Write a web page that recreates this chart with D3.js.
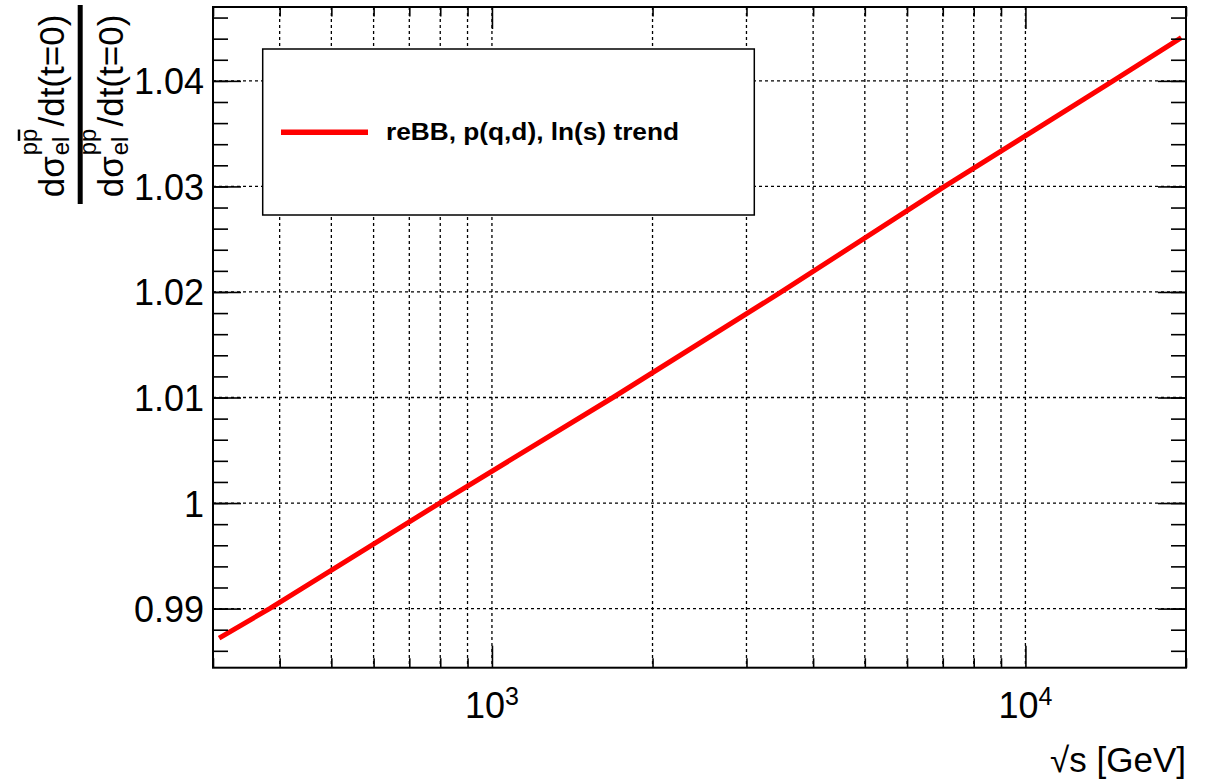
<!DOCTYPE html>
<html lang="en">
<head>
<meta charset="UTF-8">
<title>reBB ratio</title>
<script src="https://cdn.jsdelivr.net/npm/d3@7"></script>
<style>
html, body { margin: 0; padding: 0; background: #fff; }
svg { display: block; font-family: "Liberation Sans", Arial, sans-serif; }
</style>
</head>
<body>
<div class="marco"></div>
<script>
// values
const sqrtS = [308, 383, 798, 1686, 3487, 7058, 14600, 19600];
const ratio = [0.9872, 0.99, 1.00, 1.01, 1.02, 1.03, 1.04, 1.0441];
const yMajor = [0.99, 1, 1.01, 1.02, 1.03, 1.04];
const yLabels = ["0.99", "1", "1.01", "1.02", "1.03", "1.04"];
const xMajor = [1000, 10000];
const xExp = ["3", "4"];
const xMinor = [300, 400, 500, 600, 700, 800, 900, 2000, 3000, 4000, 5000, 6000, 7000, 8000, 9000, 20000];
const legendText = "reBB, p(q,d), ln(s) trend";

var width = 1214, height = 783,
    margin = { top: 7, left: 213, right: 28, bottom: 115.3 },
    innerWidth = width - margin.left - margin.right,
    innerHeight = height - margin.top - margin.bottom;

var svg = d3.select(".marco").append("svg")
    .attr("width", width)
    .attr("height", height);

var g = svg.append("g")
    .attr("transform", `translate(${margin.left}, ${margin.top})`);

var x = d3.scaleLog().domain([300, 20000]).range([0, innerWidth]),
    y = d3.scaleLinear().domain([0.9844, 1.0470]).range([innerHeight, 0]);

var yMinor = d3.range(493, 524).map(i => +(i * 0.002).toFixed(3));

// grid
var grid = g.append("g").attr("stroke", "#000").attr("stroke-width", 1.3).attr("stroke-dasharray", "3,3");
grid.selectAll(".gx")
    .data(xMinor.concat(xMajor).filter(d => d > 300 && d < 20000))
    .enter().append("line")
    .attr("x1", d => x(d)).attr("x2", d => x(d))
    .attr("y1", 0).attr("y2", innerHeight);
grid.selectAll(".gy")
    .data(yMajor)
    .enter().append("line")
    .attr("x1", 0).attr("x2", innerWidth)
    .attr("y1", d => y(d)).attr("y2", d => y(d));

// curve
g.append("clipPath").attr("id", "clip")
    .append("rect").attr("width", innerWidth).attr("height", innerHeight);

var line = d3.line()
    .x((d, i) => x(sqrtS[i]))
    .y(d => y(d));

g.append("path")
    .datum(ratio)
    .attr("clip-path", "url(#clip)")
    .attr("fill", "none")
    .attr("stroke", "#ff0000")
    .attr("stroke-width", 5)
    .attr("d", line);

// axes (ticks point inward, on all four sides)
function clean(sel) {
    sel.select(".domain").remove();
    sel.selectAll(".tick line").attr("stroke", "#000").attr("stroke-width", 1.6);
    sel.selectAll(".tick text").filter(function () { return !this.textContent; }).remove();
}
g.append("g").attr("transform", `translate(0, ${innerHeight})`)
    .call(d3.axisBottom(x).tickValues(xMinor).tickSizeInner(-9.5).tickSizeOuter(0).tickFormat(""))
    .call(clean);
g.append("g").attr("transform", `translate(0, ${innerHeight})`)
    .call(d3.axisBottom(x).tickValues(xMajor).tickSizeInner(-22).tickSizeOuter(0).tickFormat(""))
    .call(clean);
g.append("g")
    .call(d3.axisTop(x).tickValues(xMinor).tickSizeInner(-9.5).tickSizeOuter(0).tickFormat(""))
    .call(clean);
g.append("g")
    .call(d3.axisTop(x).tickValues(xMajor).tickSizeInner(-22).tickSizeOuter(0).tickFormat(""))
    .call(clean);

g.append("g")
    .call(d3.axisLeft(y).tickValues(yMinor).tickSizeInner(-15).tickSizeOuter(0).tickFormat(""))
    .call(clean);
var yAx = g.append("g")
    .call(d3.axisLeft(y).tickValues(yMajor).tickSizeInner(-28).tickSizeOuter(0).tickPadding(9)
        .tickFormat((d, i) => yLabels[i]))
    .call(clean);
yAx.selectAll("text")
    .attr("font-size", 36).attr("fill", "#000")
    .attr("font-family", "Liberation Sans, Arial, sans-serif")
    .attr("dy", "0.36em");
g.append("g").attr("transform", `translate(${innerWidth}, 0)`)
    .call(d3.axisRight(y).tickValues(yMinor).tickSizeInner(-15).tickSizeOuter(0).tickFormat(""))
    .call(clean);
g.append("g").attr("transform", `translate(${innerWidth}, 0)`)
    .call(d3.axisRight(y).tickValues(yMajor).tickSizeInner(-28).tickSizeOuter(0).tickFormat(""))
    .call(clean);

// x labels 10^n
xMajor.forEach((v, i) => {
    var t = g.append("text")
        .attr("x", x(v)).attr("y", innerHeight + 50)
        .attr("text-anchor", "middle")
        .attr("font-size", 36);
    t.append("tspan").text("10");
    t.append("tspan").attr("font-size", 25).attr("dy", -13).text(xExp[i]);
});

// frame
g.append("rect")
    .attr("width", innerWidth).attr("height", innerHeight)
    .attr("fill", "none").attr("stroke", "#000").attr("stroke-width", 2);

// x title
svg.append("text")
    .attr("x", margin.left + innerWidth).attr("y", 772)
    .attr("text-anchor", "end")
    .attr("font-size", 35)
    .text("√s [GeV]");

// legend
var leg = svg.append("g");
leg.append("rect")
    .attr("x", 262.7).attr("y", 49).attr("width", 491.6).attr("height", 166)
    .attr("fill", "#fff").attr("stroke", "#000").attr("stroke-width", 1.5);
leg.append("line")
    .attr("x1", 281).attr("x2", 368).attr("y1", 132.3).attr("y2", 132.3)
    .attr("stroke", "#ff0000").attr("stroke-width", 5.5);
leg.append("text")
    .attr("x", 386).attr("y", 140)
    .attr("font-size", 24).attr("font-weight", "bold")
    .attr("textLength", 293).attr("lengthAdjust", "spacingAndGlyphs")
    .text(legendText);

// y title: a fraction of two rotated lines
function measure(str, size) {
    var t = svg.append("text").attr("font-size", size).text(str);
    var w = t.node().getComputedTextLength();
    t.remove();
    return w;
}
function fraction(baseX, cy, pbar) {
    var big = 35, small = 24;
    var wD = measure("dσ", big) + 1,
        wEl = measure("el", small),
        wP = measure("p", small),
        wRest = measure("/dt(t=0)", big),
        wMid = Math.max(wEl, 2 * wP) + 2,
        total = wD + wMid + wRest;
    var outer = svg.append("g").attr("transform", `translate(${baseX}, ${cy}) rotate(-90)`);
    var t = outer.append("text").attr("x", -total / 2).attr("y", 0).attr("font-size", big);
    t.append("tspan").text("dσ");
    t.append("tspan").attr("dx", 1).attr("dy", 5).attr("font-size", small).text("el");
    t.append("tspan").attr("dx", -wEl).attr("dy", -32).attr("font-size", small).text("pp");
    t.append("tspan").attr("dx", wMid - 2 * wP).attr("dy", 27).text("/dt(t=0)");
    if (pbar) {
        // bar over the second p (antiproton)
        var x0 = -total / 2 + wD + wP;
        outer.append("line")
            .attr("x1", x0 + 1).attr("x2", x0 + wP - 1)
            .attr("y1", -45).attr("y2", -45)
            .attr("stroke", "#000").attr("stroke-width", 2.5);
    }
}
fraction(64, 106, true);
fraction(123, 106, false);
svg.append("rect")
    .attr("x", 77.7).attr("y", 5).attr("width", 5).attr("height", 199)
    .attr("fill", "#000");
</script>
</body>
</html>
